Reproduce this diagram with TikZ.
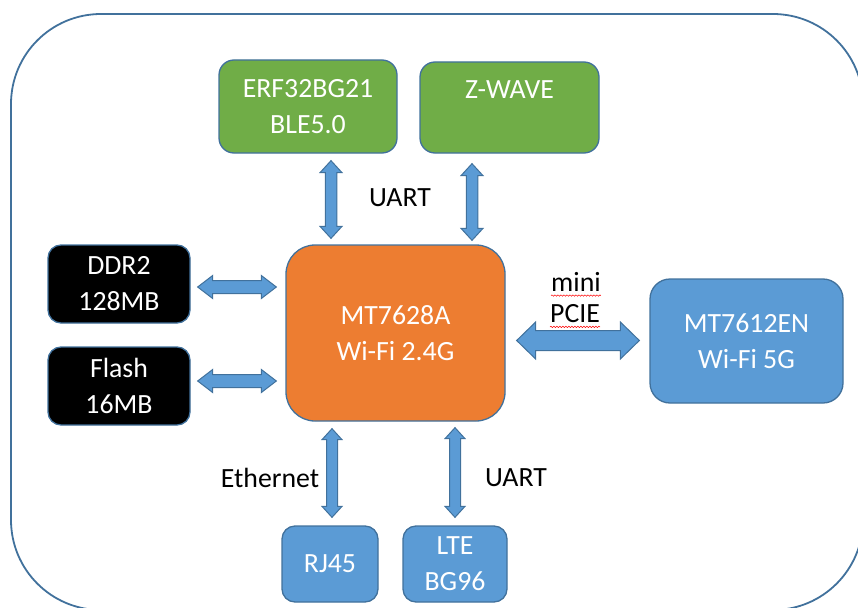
\documentclass[tikz,border=0pt]{standalone}
\usepackage{fontspec}
\setmainfont{Carlito}
\usetikzlibrary{calc, decorations.pathmorphing}
\definecolor{boxline}{RGB}{65,113,156}
\definecolor{boxgreen}{RGB}{112,173,71}
\definecolor{boxorange}{RGB}{237,125,49}
\definecolor{boxblue}{RGB}{91,155,213}

\newcommand{\dblarrow}[5]{%
	\coordinate (ba) at ($#1$);
	\coordinate (bb) at ($#2$);
	\coordinate (pa) at ($(ba)!#5pt!(bb)$);
	\coordinate (pb) at ($(bb)!#5pt!(ba)$);
	\draw[blockarrow] (ba) -- ($(pa)!#4pt!90:(bb)$) -- ($(pa)!#3pt!90:(bb)$)
		-- ($(pb)!#3pt!-90:(ba)$) -- ($(pb)!#4pt!-90:(ba)$) -- (bb)
		-- ($(pb)!#4pt!90:(ba)$) -- ($(pb)!#3pt!90:(ba)$)
		-- ($(pa)!#3pt!-90:(bb)$) -- ($(pa)!#4pt!-90:(bb)$) -- cycle;}

\begin{document}
\begin{tikzpicture}[x=1pt, y=-1pt,
	box/.style={draw=boxline, line width=1.3pt, text=white, align=center, inner sep=0pt, font=\fontsize{27.8}{36}\selectfont},
	lbl/.style={inner sep=0pt, font=\fontsize{27.8}{36}\selectfont},
	blockarrow/.style={draw=boxline, fill=boxblue, line width=1pt, line join=miter},
	wavy/.style={draw=red, line width=0.5pt, decorate, decoration={snake, amplitude=0.7pt, segment length=3pt}}]
		\useasboundingbox (0,0) rectangle (858,607);
		\draw[draw=boxline, line width=1.8pt, rounded corners=90pt] (11,14) rectangle (863,610);
		
		\node[box, fill=boxgreen, minimum width=178pt, minimum height=93pt, rounded corners=15pt] (erf) at (308,106.5) {ERF32BG21\\BLE5.0};
		\node[box, fill=boxgreen, minimum width=179pt, minimum height=91pt, rounded corners=15pt] (zwave) at (509.5,107.5) {Z-WAVE\\\mbox{}};
		\node[box, fill=black, minimum width=142pt, minimum height=78pt, rounded corners=13pt] (ddr) at (119,284) {DDR2\\128MB};
		\node[box, fill=black, minimum width=142pt, minimum height=78pt, rounded corners=13pt] (flash) at (119,386) {Flash\\16MB};
		\node[box, fill=boxorange, minimum width=219pt, minimum height=176pt, rounded corners=29pt] (mt) at (395.5,333) {MT7628A\\Wi-Fi 2.4G};
		\node[box, fill=boxblue, minimum width=193pt, minimum height=124pt, rounded corners=20pt] (mt12) at (746.5,341) {MT7612EN\\Wi-Fi 5G};
		\node[box, fill=boxblue, minimum width=96pt, minimum height=76pt, rounded corners=13pt] (rj) at (330,564) {RJ45};
		\node[box, fill=boxblue, minimum width=104pt, minimum height=76pt, rounded corners=13pt] (lte) at (455,564) {LTE\\BG96};
		
		\dblarrow{(erf.south)+(23,7)}{(mt.north)+(-64.5,-6)}{5.75}{11}{12}
		\dblarrow{(zwave.south)+(-37.5,10)}{(mt.north)+(76.5,-4)}{5.75}{11}{12}
		\dblarrow{(ddr.east)+(7,3)}{(mt.west)+(-9,-46)}{6.5}{11.5}{15}
		\dblarrow{(flash.east)+(7,-5)}{(mt.west)+(-9,48)}{6.5}{11.5}{15}
		\dblarrow{(mt.east)+(11,7.5)}{(mt12.west)+(-10,-0.5)}{10}{18.5}{19}
		\dblarrow{(mt.south)+(-63.5,7)}{(rj.north)+(2,-8)}{5.5}{10}{11}
		\dblarrow{(mt.south)+(59.5,6)}{(lte.north)+(0,-8)}{5.5}{10}{11}
		
		\node[lbl] (uart1) at (400,198) {UART};
		\node[lbl] (mini) at (576,282) {mini};
		\node[lbl] (pcie) at (575,314) {PCIE};
		\node[lbl] (eth) at (270,478) {Ethernet};
		\node[lbl] (uart2) at (516,478) {UART};
		
		\draw[wavy] ($(mini.base west)+(0,4)$) -- ($(mini.base east)+(0,4)$);
		\draw[wavy] ($(pcie.base west)+(0,4)$) -- ($(pcie.base east)+(0,4)$);
		
		\end{tikzpicture}
\end{document}
